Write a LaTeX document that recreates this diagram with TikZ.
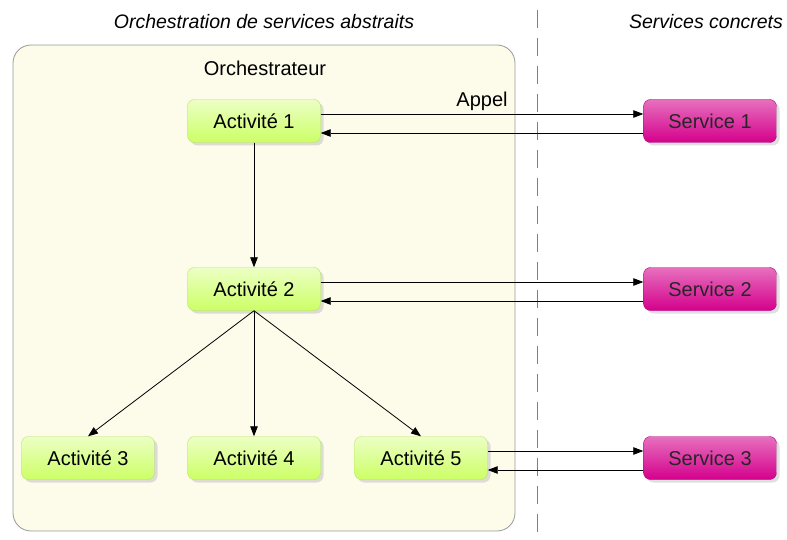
\documentclass[tikz,border=0pt]{standalone}
\usepackage{fontspec}
\setmainfont{Liberation Sans}
\usetikzlibrary{arrows.meta,shadows}
\definecolor{creme}{HTML}{FDFBEA}
\definecolor{vertact}{HTML}{CCFF66}
\definecolor{vertclair}{HTML}{ECFFC4}
\definecolor{vertbord}{HTML}{B8E468}
\definecolor{magserv}{HTML}{D4008C}
\definecolor{magclair}{HTML}{E770BE}
\definecolor{magbord}{HTML}{B0007A}
\begin{document}
\begin{tikzpicture}[x=1pt,y=-1pt,line join=round,>={Triangle[length=10pt,width=7.5pt]},
    font=\fontsize{20}{22}\selectfont,
    boite/.style={rounded corners=7pt,minimum width=133pt,minimum height=43pt,
        drop shadow={shadow xshift=3pt,shadow yshift=-3pt,fill=black!25}},
    activite/.style={boite,draw=vertbord,top color=vertclair,middle color=vertact,bottom color=vertact},
    service/.style={boite,draw=magbord,top color=magclair,middle color=magserv,bottom color=magserv,text=black!85},
    fleche/.style={->,line width=0.8pt}]
    \useasboundingbox (0,0) rectangle (787,540);
    % separation
    \draw[black!50,line width=0.8pt,dash pattern=on 18pt off 10pt] (537,10) -- (537,540);
    \draw[black!40,line width=0.8pt,fill=creme,rounded corners=18pt] (13,45) rectangle (515,531);
    \node[font=\fontsize{19.5}{22}\selectfont\itshape] (titreorch) at (264,22) {Orchestration de services abstraits};
    \node[font=\fontsize{19.5}{22}\selectfont\itshape] (titreserv) at (706,22) {Services concrets};
    \node (orch) at (265,68) {Orchestrateur};
    % activites
    \node[activite] (a1) at (254,121) {Activité 1};
    \node[activite] (a2) at (254,289) {Activité 2};
    \node[activite] (a3) at (88,458) {Activité 3};
    \node[activite] (a4) at (254,458) {Activité 4};
    \node[activite] (a5) at (421,458) {Activité 5};
    % services
    \node[service] (s1) at (710,121) {Service 1};
    \node[service] (s2) at (710,289) {Service 2};
    \node[service] (s3) at (710,458) {Service 3};
    \draw[fleche] (a1) -- (a2);
    \draw[fleche] (a2.south) -- (a3.north);
    \draw[fleche] (a2.south) -- (a4.north);
    \draw[fleche] (a2.south) -- (a5.north);
    \draw[fleche] ([yshift=7pt]a1.east) -- node[above]{Appel} ([yshift=7pt]s1.west);
    \draw[fleche] ([yshift=-12pt]s1.west) -- ([yshift=-12pt]a1.east);
    \draw[fleche] ([yshift=7pt]a2.east) -- ([yshift=7pt]s2.west);
    \draw[fleche] ([yshift=-12pt]s2.west) -- ([yshift=-12pt]a2.east);
    \draw[fleche] ([yshift=7pt]a5.east) -- ([yshift=7pt]s3.west);
    \draw[fleche] ([yshift=-12pt]s3.west) -- ([yshift=-12pt]a5.east);
\end{tikzpicture}
\end{document}
